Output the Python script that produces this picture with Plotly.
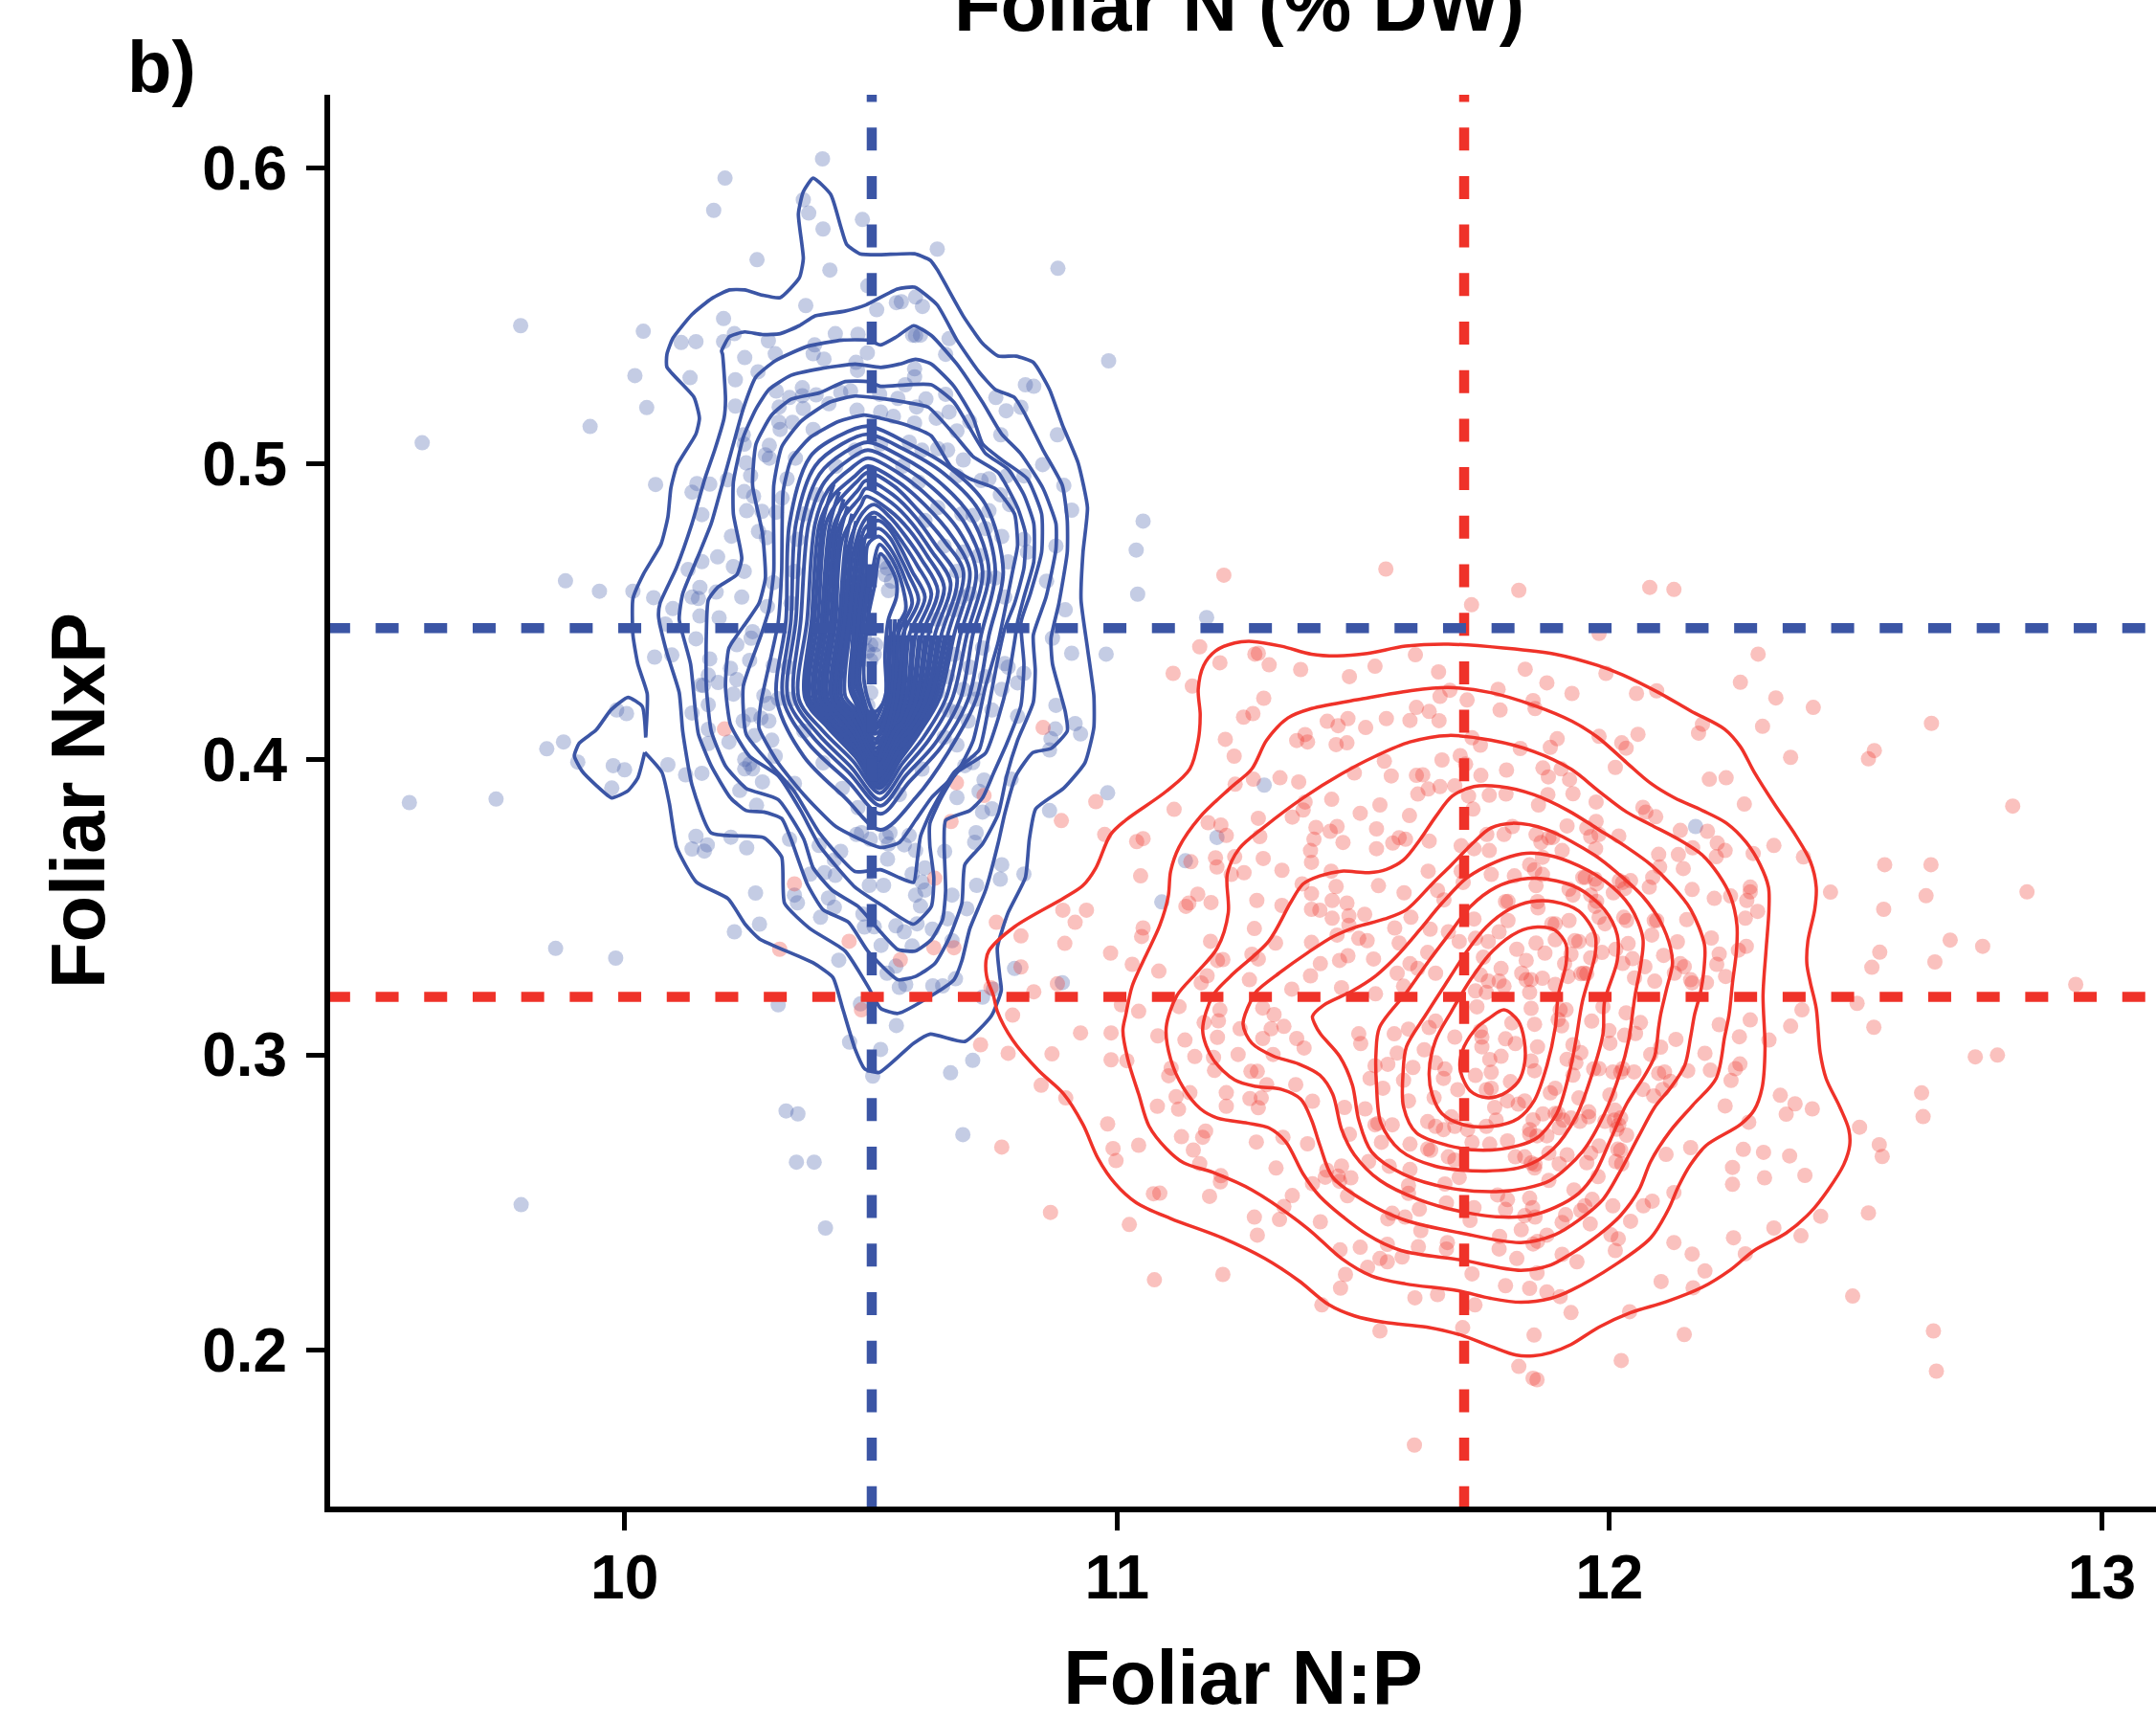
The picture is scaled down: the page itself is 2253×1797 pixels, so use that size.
import plotly.graph_objects as go

BLUE = "#3B55A5"
RED = "#EF3229"
BLUE_PT = "rgba(59,85,165,0.30)"
RED_PT = "rgba(239,50,41,0.30)"

x_ticks = [10, 11, 12, 13]
y_ticks = [0.2, 0.3, 0.4, 0.5, 0.6]
x_range = [9.4021, 13.11]
y_range = [0.1472, 0.6247]
x_line_span = [9.396, 13.11]
y_line_span = [0.1463, 0.6247]
blue_mean_x = 10.502
red_mean_x = 11.705
blue_mean_y = 0.4443
red_mean_y = 0.3196

blue_points = [
(10.402,.6030),(10.204,.5965),(10.181,.5856),(10.363,.5892),(10.374,.5847),(10.403,.5793),(10.483,.5825),(10.269,.5689),(10.417,.5654),(10.635,.5725),(10.494,.5601),(10.368,.5534),(10.512,.5520),(10.552,.5544),(10.562,.5547),(10.591,.5563),(10.605,.5531),(10.201,.5490),(9.789,.5466),(10.038,.5447),(10.223,.5439),(10.115,.5409),(10.145,.5412),(10.201,.5412),(10.292,.5415),(10.428,.5439),(10.474,.5437),(10.585,.5434),(10.601,.5434),(10.386,.5401),(10.383,.5371),(10.405,.5353),(10.493,.5374),(10.306,.5371),(10.244,.5358),(10.470,.5342),(10.473,.5315),(10.589,.5320),(10.589,.5293),(10.570,.5266),(10.271,.5310),(10.021,.5297),(10.133,.5290),(10.225,.5283),(10.308,.5245),(10.361,.5256),(10.361,.5229),(10.335,.5223),(10.389,.5232),(10.439,.5240),(10.459,.5245),(10.518,.5234),(10.555,.5220),(10.612,.5218),(10.045,.5189),(10.225,.5194),(10.314,.5191),(10.363,.5186),(10.415,.5202),(10.472,.5180),(10.593,.5191),(9.930,.5125),(10.341,.5139),(10.313,.5140),(10.316,.5115),(10.383,.5115),(10.546,.5159),(10.589,.5137),(9.589,.5070),(10.241,.5097),(10.243,.5065),(10.294,.5061),(10.286,.5029),(10.294,.5018),(10.347,.5018),(10.247,.5002),(10.256,.4959),(10.330,.4948),(10.063,.4929),(10.147,.4932),(10.173,.4930),(10.209,.4945),(10.137,.4903),(10.243,.4905),(10.262,.4889),(10.320,.4883),(10.157,.4827),(10.248,.4840),(10.279,.4838),(10.308,.4835),(10.217,.4754),(10.221,.4754),(10.272,.4770),(10.288,.4749),(10.189,.4684),(10.157,.4668),(10.221,.4651),(10.243,.4635),(10.129,.4641),(9.880,.4603),
(9.881,.4608),(9.949,.4568),(10.017,.4568),(10.059,.4546),(10.098,.4509),(10.083,.4457),(10.145,.4407),(10.061,.4345),(10.096,.4352),(10.173,.4339),(10.170,.4284),(10.190,.4259),(10.155,.4250),(10.170,.4184),(10.137,.4156),(9.984,.4166),(10.004,.4154),(9.876,.4058),(9.842,.4035),(9.905,.3990),(9.977,.3978),(10.000,.3964),(10.088,.3981),(10.124,.3947),(10.157,.3952),(9.974,.3902),(9.739,.3865),(9.563,.3853),(10.234,.3894),(10.268,.3844),(10.145,.3739),(10.137,.3696),(10.162,.3689),(10.168,.3710),(10.216,.3736),(10.248,.3700),(10.266,.3547),(10.274,.3442),(10.223,.3416),(9.860,.3360),(9.982,.3327),(10.435,.3320),(10.312,.3169),(10.457,.3043),(10.520,.3018),(10.504,.2928),(10.552,.3099),(10.662,.2939),(10.707,.2981),(10.328,.2810),(10.479,.3172),
(10.063,.4344),(10.095,.4355),(10.147,.4409),(10.173,.4339),(10.228,.4387),(10.257,.4409),(10.260,.4431),(10.254,.4334),(10.302,.4317),(10.215,.4307),(10.228,.4269),(10.189,.4258),(10.160,.4249),(10.221,.4220),(10.173,.4186),(10.139,.4155),(10.283,.4215),(10.293,.4188),(10.312,.4204),(10.257,.4150),(10.241,.4129),(10.277,.4139),(10.293,.4129),(10.170,.4101),(10.170,.4053),(10.212,.4058),(10.264,.4080),(10.299,.4064),(10.306,.4010),(10.089,.3983),(10.126,.3947),(10.158,.3953),(10.244,.3999),(10.254,.3983),(10.244,.3967),(10.260,.3967),(10.280,.3923),(10.236,.3893),(10.269,.3845),(10.345,.3918),(10.335,.3729),(10.247,.3699),(10.218,.3737),(10.147,.3740),(10.137,.3692),(10.168,.3708),(10.162,.3688),(10.377,.3611),(10.395,.3708),(10.439,.3688),(10.426,.3659),(10.406,.3616),(10.428,.3607),(10.268,.3546),(10.345,.3540),(10.351,.3514),(10.354,.3503),(10.414,.3530),(10.426,.3499),(10.398,.3465),(10.484,.3476),(10.487,.3432),(10.507,.3433),(10.551,.3436),(10.568,.3416),(10.594,.3443),(10.625,.3425),(10.656,.3460),(10.521,.3370),(10.584,.3368),(10.665,.3386),(10.275,.3440),(10.224,.3416),(10.435,.3319),(10.551,.3300),(10.533,.3276),(10.558,.3228),(10.571,.3238),(10.626,.3233),(10.646,.3233),(10.672,.3257),(10.727,.3195),(10.792,.3292),(10.889,.3244),(10.312,.3168),(10.481,.3174),(10.554,.3103),(10.481,.3751),(10.471,.3745),(10.499,.3729),(10.539,.3751),(10.531,.3738),(10.578,.3742),(10.536,.3713),(10.568,.3710),(10.591,.3691),(10.534,.3662),(10.650,.3688),(10.714,.3751),(10.711,.3719),(10.766,.3643),(10.763,.3594),(10.811,.3611),(10.715,.3573),(10.526,.3573),(10.497,.3573),(10.584,.3611),(10.610,.3632),(10.604,.3584),(10.610,.3557),(10.591,.3540),(10.601,.3503),(10.665,.3540),(10.695,.3494),(10.863,.3826),(10.981,.3886),(10.727,.3821),(10.746,.3832),(10.675,.3870),(10.720,.3891),(10.785,.3932),(10.730,.3929),(10.707,.3988),(10.691,.3978),(10.675,.4048),(10.698,.4129),(10.746,.4166),(10.798,.4145),(10.863,.4031),(10.875,.4102),(10.866,.4069),(10.915,.4120),(10.926,.4085),(10.876,.4182),(10.869,.4409),(10.908,.4358),(10.978,.4355),(10.772,.4323),(10.811,.4290),(10.798,.4258),(10.714,.4236),(10.636,.4226),(10.659,.4166),
(10.983,.5347),(10.814,.5266),(10.831,.5261),(10.754,.5223),(10.775,.5178),(10.805,.5190),(10.764,.5097),(10.879,.5097),(10.849,.4996),(10.892,.4926),(10.908,.4842),(10.811,.4958),(10.776,.4958),(10.724,.4942),(10.740,.4948),(10.763,.4894),(10.782,.4861),(10.740,.4840),(10.708,.4824),(10.733,.4780),(10.766,.4753),(10.811,.4743),(10.876,.4721),(10.779,.4667),(10.818,.4700),(10.857,.4602),(10.895,.4505),(10.772,.4548),(10.688,.5012),(10.701,.5142),(10.675,.5110),(10.659,.5174),(10.652,.5369),(10.659,.5422),(10.591,.5433),(10.652,.5234),(10.610,.5215),(10.594,.5185),(10.633,.5153),(10.591,.5137),(10.549,.5169),(10.520,.5174),(10.471,.5185),(10.558,.5223),(10.520,.5234),(10.455,.5244),(10.416,.5204),(10.571,.5271),(10.591,.5293),(10.474,.5320),(10.604,.5045),(10.636,.5050),(10.578,.5072),(10.656,.5045),(10.675,.4958),(10.685,.4829),(10.733,.4613),(10.685,.4548),(10.669,.4505),(10.636,.4473),
(10.296,.5056),(10.290,.5029),(10.241,.5099),(10.244,.5066),(10.247,.4996),(10.254,.4964),(10.244,.4905),(10.260,.4888),(10.247,.4840),(10.280,.4838),(10.312,.4834),(10.273,.4770),(10.218,.4753),(10.319,.4894),(10.328,.4948),(10.348,.5018),(10.189,.4687),(10.157,.4667),(10.221,.4651),(10.241,.4629),(10.131,.4637),(10.153,.4581),(10.186,.4565),(10.137,.4548),(10.150,.4543),(10.238,.4548),(10.063,.4543),(10.102,.4505),(10.153,.4484),(10.192,.4478),(10.302,.4597),(10.290,.4516),(10.134,.4905),(10.150,.4932),(10.176,.4928),(10.208,.4948),(10.157,.4827),(10.066,.4926),
(10.533,.4646),(10.542,.4602),(10.529,.4624),(10.536,.4570),(10.526,.4667),(10.500,.4387),(10.507,.4354),(10.494,.4365),(10.500,.4333),(10.510,.4387),(10.487,.4408),(10.500,.4225),(10.494,.4182),(10.669,.4354),(10.701,.4311),(10.727,.4376),(10.656,.4279),(10.688,.4236),(10.733,.4279),(10.779,.4311),(10.636,.4225),(10.675,.4160),(10.714,.4203),(10.766,.4236),(10.701,.4559),(10.675,.4635),(10.720,.4689),(10.753,.4613),(10.649,.4721),(10.688,.4700),(10.610,.4807),(10.636,.4851),(10.597,.4937),(10.565,.4991),(10.520,.5066),(10.468,.5045),(10.429,.4991),(10.390,.4894),(10.364,.4829),(10.351,.4743),(10.345,.4635),(10.338,.4527),(10.332,.4311),(10.338,.4203),(10.364,.4095),(10.403,.3987),(10.442,.3901),(10.474,.3836),(10.558,.3880),(10.604,.3966),(10.649,.4074),
(9.79,.2493),(10.352,.2800),(10.349,.2637),(10.385,.2637),(10.408,.2414),(10.880,.5660),(11.053,.4805),(11.039,.4707),(11.042,.4558),(11.182,.4479),(10.687,.2730),(11.299,.3912),(12.175,.3772),(11.296,.3909),(11.203,.3735),(11.139,.3656),(11.091,.3517),(10.982,.3886),(10.977,.4354),(10.907,.4357),(10.868,.4407),(10.895,.4504),(10.876,.4180),(10.914,.4120),(10.927,.4084),(10.874,.4103),(10.864,.4074),(10.861,.4031),(10.864,.3826),(10.788,.3931),(10.766,.3643),(10.811,.3610),(10.762,.3594),(10.716,.3572),(10.694,.3492),(10.790,.3292),(10.889,.3243),(10.749,.3222),(10.725,.3190),(10.708,.2980),(10.685,.2732),
]

red_points = [
(12.082,.4581),(12.131,.4574),(11.979,.4425),(12.302,.4355),(12.266,.4260),(12.338,.4207),(12.414,.4175),(12.654,.4121),(12.189,.4118),(12.181,.4088),(12.311,.4111),(12.538,.4029),(12.526,.4001),(12.368,.4006),(12.203,.3932),(12.237,.3937),(12.274,.3848),(12.819,.3841),(12.334,.3708),(12.394,.3669),(12.292,.3681),(12.219,.3716),(12.235,.3691),(12.199,.3756),(12.144,.3759),(12.169,.3700),(12.217,.3670),(12.140,.3677),(12.100,.3678),(12.150,.3630),(12.102,.3635),(12.559,.3643),(12.653,.3643),(12.449,.3550),(12.848,.3551),(12.643,.3538),(12.557,.3492),(12.168,.3559),(12.213,.3529),(12.246,.3537),(12.286,.3567),(12.286,.3551),(12.279,.3522),(12.301,.3485),(12.276,.3462),(12.157,.3457),(12.692,.3388),(12.758,.3367),(12.549,.3347),(12.533,.3296),(12.661,.3314),(12.947,.3238),(12.503,.3174),(12.207,.3395),(12.138,.3382),(12.278,.3367),(12.262,.3354),(12.223,.3341),(12.218,.3306),(12.110,.3336),(12.144,.3308),(12.152,.3298),(12.132,.3276),(12.236,.3265),(12.197,.3244),(12.165,.3254),(12.092,.3249),(12.051,.3260),(12.072,.3298),
(11.873,.4258),(11.924,.4222),(12.055,.4222),(12.096,.4231),(11.993,.4290),(11.845,.4198),(11.979,.4077),(12.025,.4055),(12.034,.4037),(12.058,.4084),(11.894,.4069),(11.880,.4040),(12.012,.3972),(11.865,.3970),(11.876,.3940),(11.902,.3967),(11.919,.3931),(11.926,.3883),(11.875,.3880),(11.856,.3845),(11.973,.3855),(12.068,.3837),(12.074,.3821),(12.094,.3805),(11.914,.3774),(11.954,.3767),(11.973,.3789),(11.962,.3738),(11.979,.3745),(11.972,.3697),(12.019,.3740),(11.861,.3718),(11.885,.3735),(11.904,.3691),(11.864,.3668),(11.946,.3600),(11.974,.3578),(12.043,.3589),(12.027,.3583),(12.088,.3600),(12.081,.3567),(11.918,.3560),(11.926,.3540),(12.008,.3548),(12.031,.3562),(11.962,.3540),(11.974,.3519),(12.029,.3465),(12.035,.3454),(12.096,.3454),(12.086,.3405),(12.038,.3376),(12.013,.3357),(11.985,.3346),(11.962,.3328),(12.027,.3309),(12.047,.3325),(11.942,.3274),(11.954,.3274),(11.991,.3443),(11.979,.3465),(11.918,.3454),(11.890,.3443),(11.966,.3389),(11.930,.3386),(11.869,.3344),
(12.503,.3174),(12.391,.3152),(12.537,.3093),(12.368,.3097),(12.286,.3118),(12.223,.3102),(12.264,.3061),(12.324,.3050),(12.194,.3005),(12.743,.2993),(12.788,.2999),(12.265,.2969),(12.256,.2953),(12.205,.2948),(12.247,.2913),(12.634,.2871),(12.637,.2791),(12.347,.2863),(12.377,.2834),(12.359,.2799),(12.412,.2817),(12.235,.2827),(12.283,.2772),(12.508,.2755),(12.548,.2696),(12.554,.2656),(12.165,.2686),(12.115,.2663),(12.272,.2680),(12.313,.2670),(12.366,.2658),(12.250,.2619),(12.250,.2562),(12.315,.2584),(12.397,.2592),(12.131,.2534),(12.087,.2505),(12.069,.2489),(12.007,.2489),(12.429,.2454),(12.526,.2465),(12.043,.2437),(11.961,.2428),(12.334,.2414),(12.389,.2388),(12.252,.2381),(12.131,.2365),(12.168,.2326),(12.276,.2327),(12.018,.2378),(12.012,.2338),(11.904,.2325),(11.934,.2300),(11.853,.2262),(12.194,.2269),(12.105,.2233),(12.170,.2212),(12.494,.2184),(11.873,.2198),(11.900,.2182),(11.922,.2128),(12.041,.2131),(11.847,.2052),(12.152,.2054),(12.658,.2066),(12.024,.1966),(12.664,.1930),(11.853,.1901),(11.845,.1906),(12.135,.3052),(12.104,.3026),(12.084,.3001),(12.063,.3109),(12.053,.3072),(12.034,.3142),(12.031,.3066),(11.999,.3082),(12.001,.3039),(11.979,.2953),(12.007,.2942),(12.050,.2942),(12.027,.2953),(11.926,.3034),(11.942,.3007),(11.914,.2985),(11.926,.2931),(12.100,.2937),(12.112,.2942),(12.124,.2910),(12.068,.2883),(12.090,.2861),(12.108,.2883),(12.001,.2864),(11.938,.2854),(11.958,.2807),(12.011,.2813),(12.023,.2786),(11.922,.2786),(11.940,.2775),(11.991,.2775),(12.015,.2748),(12.035,.2728),(11.898,.2753),(11.873,.2726),(11.865,.2800),(11.890,.2802),(11.979,.2692),(12.017,.2681),(12.025,.2631),(11.962,.2667),(11.914,.2662),(11.877,.2667),(11.898,.2631),(11.954,.2635),(11.977,.2588),(11.877,.2575),(11.928,.2543),(11.965,.2511),(11.950,.2489),(11.942,.2473),(11.911,.2459),(11.904,.2433),(11.873,.2390),(11.845,.2360),(11.849,.2451),(11.849,.2629),(11.853,.2726),(11.845,.2780),
(11.217,.4622),(11.546,.4643),(11.816,.4571),(11.720,.4522),(11.168,.4380),(11.980,.4425),(11.287,.4358),(11.280,.4355),(11.606,.4353),(11.209,.4326),(11.309,.4319),(11.524,.4314),(11.373,.4303),(11.114,.4290),(11.653,.4295),(11.472,.4279),(11.829,.4304),(11.875,.4258),(11.994,.4288),(11.925,.4222),(11.153,.4247),(11.774,.4236),(11.676,.4233),(11.656,.4212),(11.711,.4200),(11.298,.4206),(11.847,.4198),(11.849,.4171),(11.778,.4166),(11.276,.4154),(11.257,.4142),(11.608,.4175),(11.634,.4161),(11.654,.4130),(11.427,.4128),(11.469,.4137),(11.449,.4113),(11.505,.4107),(11.547,.4137),(11.595,.4131),(11.382,.4083),(11.365,.4063),(11.387,.4058),(11.445,.4049),(11.467,.4055),(11.220,.4067),(11.721,.4072),(11.738,.4047),(11.895,.4069),(11.882,.4040),(11.819,.4036),(11.977,.4080),(12.025,.4058),(11.238,.4010),(11.660,.3997),(11.697,.4012),(11.708,.3983),(11.543,.3993),(11.540,.3990),(11.791,.3963),(11.867,.3970),(11.901,.3966),(12.011,.3972),(11.482,.3953),(11.557,.3943),(11.739,.3945),(11.608,.3945),(11.621,.3947),(11.875,.3939),(11.921,.3931),(11.331,.3937),(11.369,.3923),(11.277,.3932),(11.240,.3915),(11.656,.3907),(11.686,.3910),(11.632,.3899),(11.611,.3882),(11.756,.3878),(11.790,.3882),(11.876,.3882),(11.927,.3883),(10.957,.3856),(11.436,.3864),(11.714,.3875),(11.382,.3855),(11.534,.3845),(11.857,.3844),(11.973,.3855),(11.116,.3830),(11.723,.3831),(11.494,.3817),(11.378,.3828),(11.356,.3804),(11.594,.3809),(10.887,.3792),(11.287,.3800),(11.185,.3785),(11.211,.3777),(11.222,.3742),(11.404,.3769),(11.433,.3756),(11.447,.3772),(11.527,.3764),(11.915,.3774),(11.951,.3770),(11.974,.3790),(10.975,.3745),(11.053,.3731),(11.040,.3721),(11.290,.3738),(11.400,.3729),(11.459,.3718),(11.586,.3729),(11.573,.3734),(11.560,.3716),(11.634,.3723),(11.699,.3707),(11.751,.3745),(11.786,.3745),(11.803,.3772),(11.851,.3745),(11.877,.3734),(11.907,.3697),(11.973,.3699),(12.021,.3740),(11.393,.3691),(11.527,.3697),(11.200,.3666),(11.150,.3653),(11.239,.3670),(11.297,.3664),(11.395,.3651),(11.725,.3697),(11.756,.3691),(11.838,.3643),(11.866,.3675),(11.951,.3600),(12.020,.3589),(11.203,.3635),(11.335,.3624),(11.048,.3605),(11.232,.3610),(11.258,.3616),(11.435,.3621),(11.632,.3621),(11.699,.3621),(11.760,.3610),(11.807,.3605),(11.864,.3610),(11.376,.3578),(11.445,.3569),(11.531,.3572),(11.583,.3548),(11.651,.3556),(11.703,.3583),(11.851,.3572),(11.920,.3556),(11.395,.3545),(11.164,.3543),(11.146,.3513),(11.140,.3502),(11.191,.3515),(11.284,.3522),(11.437,.3522),(11.467,.3513),(11.335,.3505),(11.395,.3492),(11.412,.3489),(11.503,.3475),(10.890,.3489),(10.938,.3489),(11.471,.3470),(11.437,.3462),(10.915,.3448),(10.755,.3448),(11.597,.3465),(11.664,.3524),(11.725,.3459),(11.794,.3519),(11.855,.3497),(11.977,.3459),(11.053,.3429),(11.279,.3427),(11.471,.3438),(11.564,.3429),(11.636,.3425),(11.794,.3454),(10.805,.3402),(11.050,.3400),(11.447,.3405),(10.894,.3377),(11.190,.3384),(11.322,.3378),(11.395,.3380),(11.491,.3394),(11.508,.3386),(11.573,.3378),(10.987,.3344),(11.215,.3322),(11.204,.3319),(11.274,.3340),(11.287,.3324),(11.469,.3335),(11.452,.3319),(11.521,.3324),(11.413,.3308),(11.417,.3303),(10.805,.3297),(11.031,.3306),(11.085,.3283),(11.393,.3267),(11.183,.3267),(11.171,.3243),(11.269,.3254),(11.355,.3222),(11.456,.3227),(11.525,.3206),(10.831,.3213),(10.879,.3240),(10.744,.3227),
(10.788,.3134),(10.723,.3034),(10.779,.3005),(10.868,.3003),(10.926,.3074),(10.988,.3074),(10.988,.2983),(11.020,.2980),(11.044,.3147),(11.009,.3169),(11.083,.3064),(10.846,.2897),(10.896,.2854),(10.981,.2766),(11.082,.2826),(11.125,.2816),(11.120,.2858),(11.148,.2872),(11.110,.2955),(11.105,.2929),(11.158,.2994),(11.138,.3050),(11.196,.2991),(11.198,.2947),(11.204,.3059),(11.206,.3115),(11.177,.3109),(11.209,.3152),(11.126,.3163),(10.766,.2688),(10.992,.2683),(11.044,.2694),(10.998,.2642),(11.131,.2723),(11.174,.2721),(11.180,.2742),(11.155,.2678),(11.168,.2632),(11.211,.2591),(11.210,.2570),(11.074,.2530),(11.087,.2532),(11.188,.2521),(10.865,.2467),(11.025,.2426),(11.076,.2239),(11.215,.2257),(11.222,.2872),(11.222,.2826),(11.270,.2852),(11.293,.2854),(11.287,.2821),(11.272,.2944),(11.285,.2944),(11.304,.2899),(11.246,.3001),(11.250,.3088),(11.296,.3055),(11.317,.3001),(11.313,.3088),(11.339,.3096),(11.319,.3136),(11.296,.3158),(11.365,.3055),(11.380,.3023),(11.363,.2899),(11.397,.2843),(11.283,.2705),(11.337,.2721),(11.387,.2699),(11.323,.2617),(11.356,.2524),(11.339,.2487),(11.279,.2451),(11.330,.2443),(11.285,.2390),(11.413,.2435),(11.397,.2564),(11.426,.2610),(11.423,.2586),(11.452,.2572),(11.475,.2584),(11.456,.2624),(11.468,.2523),(11.453,.2340),(11.494,.2349),(11.549,.2359),(11.612,.2351),(11.671,.2365),(11.669,.2343),(11.579,.2316),(11.534,.2311),(11.549,.2300),(11.509,.2281),(11.464,.2257),(11.454,.2211),(11.416,.2154),(11.605,.2178),(11.651,.2189),(11.534,.2066),(11.702,.2077),(11.727,.2154),(11.721,.2259),(11.789,.2219),(11.838,.2210),(11.855,.2262),(11.875,.2198),(11.902,.2179),(11.922,.2127),(11.845,.2049),(11.816,.1946),(11.845,.1908),(11.854,.1901),(12.022,.1966),(11.604,.1680),(11.559,.2464),(11.585,.2451),(11.614,.2478),(11.617,.2405),(11.717,.2440),(11.777,.2386),(11.776,.2343),(11.821,.2408),(11.845,.2354),(11.812,.2311),(11.905,.2325),(11.934,.2300),(11.875,.2390),(11.912,.2451),(11.961,.2429),(12.008,.2489),(12.019,.2381),(12.012,.2338),
(11.806,.3605),(11.848,.3626),(11.867,.3610),(11.945,.3599),(11.971,.3594),(12.029,.3583),(12.084,.3599),(12.168,.3556),(11.789,.3518),(11.854,.3518),(11.857,.3491),(11.925,.3545),(11.971,.3502),(11.993,.3448),(12.032,.3459),(12.091,.3454),(12.159,.3459),(12.214,.3529),(12.211,.3394),(11.673,.3416),(11.695,.3383),(11.754,.3383),(11.728,.3394),(11.776,.3416),(11.812,.3357),(11.831,.3319),(11.851,.3378),(11.870,.3340),(11.919,.3459),(11.883,.3443),(11.938,.3383),(11.964,.3330),(12.013,.3357),(12.039,.3378),(12.087,.3405),(12.139,.3383),(12.110,.3340),(12.149,.3303),(12.049,.3324),(11.744,.3330),(11.595,.3308),(11.611,.3292),(11.647,.3276),(11.631,.3346),(11.569,.3276),(11.520,.3324),(11.922,.3340),(11.890,.3389),(11.909,.3308),
(11.738,.3270),(11.754,.3249),(11.776,.3249),(11.780,.3292),(11.831,.3254),(11.841,.3254),(11.822,.3276),(11.864,.3259),(11.916,.3265),(11.948,.3276),(11.890,.3238),(12.071,.3292),(12.091,.3243),(12.168,.3243),(12.198,.3243),(12.152,.3303),(11.582,.3232),(11.572,.3270),(11.728,.3216),(11.786,.3232),(11.838,.3211),(11.750,.3211),(11.731,.3162),(11.841,.3157),(11.900,.3152),(11.912,.3152),(11.987,.3162),(12.032,.3146),(11.802,.3108),(11.848,.3103),(11.896,.3119),(11.903,.3098),(11.647,.3114),(11.634,.3092),(11.592,.3087),(11.563,.3071),(11.495,.3038),(11.491,.3071),(11.741,.3060),(11.738,.3081),(11.686,.3060),(11.741,.3027),(11.809,.3038),(11.854,.3027),(11.789,.3054),(11.964,.3114),(12.000,.3071),(12.029,.3060),(12.065,.3108),(12.055,.3076),(11.929,.3027),(11.945,.3006),(12.136,.3054),(12.220,.3103),(12.194,.3006),(12.000,.3038),(12.104,.3022),(12.081,.3000),
(11.666,.2952),(11.647,.2973),(11.550,.2968),(11.601,.2957),(11.524,.2963),(11.624,.3017),(11.569,.3006),(11.757,.2984),(11.754,.2995),(11.780,.2995),(11.841,.2979),(11.909,.2984),(11.932,.2973),(11.968,.2952),(12.023,.2941),(12.052,.2941),(12.113,.2941),(12.159,.2946),(11.760,.2941),(11.848,.2946),(11.799,.2909),(11.802,.2898),(11.663,.2920),(11.660,.2914),(11.890,.2887),(11.880,.2871),(11.981,.2952),(12.100,.2930),(12.071,.2887),(12.091,.2866),(11.728,.2930),(11.760,.2887),(11.750,.2882),(11.692,.2882),(12.207,.2946),(11.582,.2914),(11.514,.2920),(11.540,.2887),(12.000,.2866),(11.938,.2855),
(11.592,.2844),(11.644,.2855),(11.679,.2790),(11.767,.2822),(11.815,.2833),(11.793,.2844),(11.828,.2844),(11.770,.2779),(11.864,.2801),(11.906,.2779),(11.896,.2801),(11.958,.2790),(12.010,.2779),(12.019,.2763),(12.036,.2731),(11.838,.2747),(11.838,.2731),(11.647,.2758),(11.663,.2747),(11.686,.2758),(11.712,.2747),(11.750,.2758),(11.530,.2768),(11.524,.2763),(11.559,.2763),(11.631,.2774),(11.504,.2817),(11.462,.2822),(11.472,.2731),(11.537,.2704),(11.595,.2698),(11.637,.2677),(11.631,.2682),(11.721,.2704),(11.757,.2698),(11.793,.2709),(12.023,.2677),
(11.673,.2655),(11.686,.2644),(11.809,.2655),(11.828,.2655),(11.877,.2671),(11.912,.2661),(11.841,.2634),(11.848,.2617),(11.955,.2639),(11.981,.2682),(12.013,.2639),(12.117,.2666),(12.165,.2688),(11.595,.2612),(11.553,.2623),(11.511,.2639),(11.456,.2623),(11.666,.2563),(11.695,.2585),(11.592,.2558),(11.977,.2585),(11.877,.2580),(11.929,.2547),(11.449,.2590),(11.475,.2585),(11.426,.2585),(11.469,.2526),(11.592,.2531),(11.669,.2499),(11.614,.2477),(11.725,.2483),(11.773,.2526),(11.793,.2510),(11.838,.2515),(11.844,.2483),(11.789,.2477),(11.828,.2456),(12.006,.2488),(12.071,.2488),(12.087,.2510),(11.912,.2461),(11.906,.2434),(11.961,.2423),(12.045,.2434),(11.582,.2450),(11.550,.2445),(11.618,.2407),(11.822,.2407),(11.669,.2375),(11.776,.2385),(12.003,.2391),(11.854,.2369),
(10.203,.4102),(10.850,.4107),(10.674,.3920),(10.730,.3877),(10.663,.3789),(10.630,.3597),(10.345,.3578),(10.456,.3384),(10.315,.3357),(10.560,.3321),(10.628,.3362),(10.669,.3362),(10.740,.3222),(10.831,.3211),(10.879,.3238),(10.788,.3134),(10.481,.3152),(10.754,.3449),(10.805,.3402),(10.893,.3379),(10.986,.3346),(10.807,.3298),(10.889,.3486),(10.938,.3490),(10.915,.3449),(10.957,.3857),(10.887,.3792),(10.975,.3745),
]

red_level_1 = [(11.200,.4366),(11.239,.4393),(11.274,.4398),(11.334,.4382),(11.395,.4355),(11.447,.4349),(11.508,.4357),(11.586,.4382),(11.673,.4389),(11.785,.4376),(11.890,.4355),(11.976,.4317),(12.027,.4285),(12.100,.4225),(12.165,.4163),(12.234,.4101),(12.266,.4042),(12.294,.3956),(12.335,.3848),(12.379,.3740),(12.408,.3654),(12.420,.3567),(12.417,.3492),(12.403,.3384),(12.401,.3308),(12.408,.3244),(12.420,.3157),(12.428,.3007),(12.440,.2920),(12.468,.2823),(12.486,.2748),(12.488,.2694),(12.476,.2629),(12.444,.2543),(12.408,.2467),(12.359,.2397),(12.294,.2338),(12.246,.2273),(12.189,.2214),(12.116,.2165),(12.043,.2128),(11.979,.2079),(11.922,.2020),(11.881,.1993),(11.846,.1982),(11.811,.1984),(11.759,.2014),(11.699,.2052),(11.629,.2079),(11.543,.2095),(11.482,.2117),(11.430,.2155),(11.369,.2236),(11.300,.2311),(11.213,.2381),(11.109,.2446),(11.039,.2500),(10.996,.2565),(10.961,.2651),(10.931,.2764),(10.892,.2867),(10.840,.2948),(10.788,.3050),(10.757,.3147),(10.749,.3201),(10.736,.3260),(10.734,.3319),(10.740,.3352),(10.792,.3433),(10.892,.3530),(10.931,.3573),(10.957,.3632),(10.987,.3745),(11.018,.3794),(11.100,.3891),(11.148,.3967),(11.165,.4064),(11.169,.4150),(11.165,.4236),(11.176,.4317)]
red_level_2 = [(11.018,.3136),(11.031,.3233),(11.057,.3330),(11.087,.3438),(11.104,.3535),(11.109,.3621),(11.126,.3702),(11.169,.3805),(11.230,.3902),(11.274,.3967),(11.304,.4064),(11.347,.4139),(11.395,.4171),(11.499,.4204),(11.595,.4231),(11.673,.4242),(11.759,.4225),(11.846,.4182),(11.924,.4128),(11.976,.4074),(12.035,.3988),(12.084,.3918),(12.132,.3869),(12.189,.3826),(12.238,.3783),(12.278,.3718),(12.306,.3643),(12.323,.3567),(12.324,.3492),(12.318,.3352),(12.312,.3201),(12.316,.3018),(12.310,.2888),(12.294,.2813),(12.266,.2764),(12.197,.2694),(12.165,.2629),(12.140,.2554),(12.120,.2478),(12.084,.2381),(12.011,.2289),(11.922,.2203),(11.881,.2176),(11.820,.2163),(11.759,.2176),(11.690,.2203),(11.586,.2225),(11.517,.2252),(11.456,.2311),(11.386,.2414),(11.274,.2543),(11.195,.2602),(11.135,.2635),(11.100,.2683),(11.065,.2759),(11.044,.2867),(11.022,.2985),(11.012,.3082)]
red_level_3 = [(11.122,.3201),(11.161,.3276),(11.204,.3362),(11.226,.3481),(11.224,.3611),(11.248,.3697),(11.300,.3772),(11.378,.3869),(11.456,.3950),(11.525,.4010),(11.595,.4058),(11.673,.4080),(11.759,.4064),(11.846,.4026),(11.922,.3966),(11.979,.3891),(12.035,.3821),(12.084,.3778),(12.140,.3729),(12.189,.3675),(12.221,.3611),(12.246,.3535),(12.259,.3438),(12.258,.3352),(12.250,.3244),(12.243,.3136),(12.234,.3061),(12.217,.2921),(12.169,.2829),(12.124,.2743),(12.084,.2640),(12.060,.2543),(12.023,.2457),(11.979,.2392),(11.922,.2327),(11.881,.2289),(11.820,.2271),(11.699,.2306),(11.577,.2338),(11.508,.2392),(11.412,.2521),(11.378,.2597),(11.343,.2705),(11.308,.2753),(11.265,.2769),(11.204,.2786),(11.169,.2818),(11.135,.2888),(11.109,.2985),(11.100,.3093)]
red_level_4 = [(11.195,.3201),(11.230,.3265),(11.308,.3384),(11.352,.3513),(11.378,.3578),(11.412,.3605),(11.456,.3621),(11.512,.3616),(11.547,.3627),(11.582,.3659),(11.616,.3729),(11.647,.3805),(11.681,.3875),(11.725,.3907),(11.777,.3907),(11.846,.3880),(11.916,.3826),(11.979,.3761),(12.035,.3702),(12.084,.3643),(12.124,.3578),(12.165,.3492),(12.193,.3373),(12.193,.3308),(12.185,.3211),(12.173,.3136),(12.165,.3061),(12.153,.2964),(12.124,.2888),(12.092,.2823),(12.060,.2726),(12.019,.2597),(11.987,.2511),(11.938,.2441),(11.890,.2392),(11.820,.2365),(11.699,.2397),(11.586,.2440),(11.508,.2500),(11.438,.2586),(11.412,.2694),(11.395,.2780),(11.373,.2850),(11.334,.2883),(11.282,.2893),(11.239,.2915),(11.195,.2985),(11.174,.3082)]
red_level_5 = [(11.274,.3190),(11.284,.3216),(11.329,.3276),(11.388,.3346),(11.439,.3400),(11.485,.3432),(11.543,.3459),(11.588,.3491),(11.640,.3578),(11.679,.3642),(11.724,.3718),(11.759,.3767),(11.803,.3783),(11.872,.3762),(11.970,.3675),(12.019,.3611),(12.068,.3535),(12.104,.3449),(12.124,.3362),(12.128,.3308),(12.116,.3222),(12.104,.3136),(12.100,.3093),(12.092,.2996),(12.072,.2931),(12.035,.2834),(12.003,.2716),(11.970,.2597),(11.938,.2532),(11.890,.2484),(11.841,.2457),(11.785,.2451),(11.707,.2467),(11.612,.2511),(11.534,.2575),(11.482,.2662),(11.456,.2748),(11.438,.2867),(11.412,.2931),(11.369,.2969),(11.317,.2996),(11.274,.3039),(11.256,.3104)]
red_level_6 = [(11.397,.3130),(11.420,.3168),(11.478,.3216),(11.524,.3265),(11.569,.3335),(11.614,.3421),(11.660,.3513),(11.711,.3599),(11.770,.3653),(11.822,.3680),(11.860,.3680),(11.919,.3653),(11.990,.3589),(12.042,.3502),(12.068,.3394),(12.064,.3308),(12.052,.3200),(12.039,.3049),(12.022,.2941),(11.990,.2801),(11.945,.2672),(11.880,.2575),(11.828,.2548),(11.770,.2537),(11.679,.2548),(11.582,.2596),(11.517,.2672),(11.491,.2779),(11.478,.2898),(11.452,.2995),(11.413,.3071),(11.402,.3103)]
red_level_7 = [(11.526,.3006),(11.533,.3092),(11.588,.3211),(11.634,.3319),(11.673,.3405),(11.718,.3502),(11.770,.3567),(11.822,.3594),(11.873,.3594),(11.938,.3562),(11.990,.3491),(12.016,.3405),(12.016,.3319),(11.990,.3179),(11.987,.3071),(11.964,.2931),(11.932,.2790),(11.886,.2682),(11.828,.2623),(11.750,.2607),(11.647,.2623),(11.575,.2677),(11.536,.2769),(11.527,.2898)]
red_level_8 = [(11.581,.2941),(11.588,.3028),(11.627,.3135),(11.673,.3254),(11.711,.3351),(11.750,.3432),(11.796,.3491),(11.841,.3518),(11.886,.3518),(11.938,.3486),(11.971,.3405),(11.971,.3340),(11.945,.3179),(11.932,.3049),(11.919,.2941),(11.893,.2801),(11.854,.2720),(11.815,.2693),(11.744,.2677),(11.673,.2693),(11.608,.2736),(11.582,.2823)]
red_level_9 = [(11.634,.2941),(11.647,.3049),(11.679,.3146),(11.718,.3254),(11.763,.3351),(11.815,.3416),(11.854,.3432),(11.890,.3421),(11.912,.3373),(11.912,.3308),(11.896,.3200),(11.890,.3092),(11.873,.2963),(11.847,.2844),(11.815,.2785),(11.763,.2758),(11.705,.2763),(11.660,.2801),(11.640,.2866)]
red_level_10 = [(11.705,.3028),(11.731,.3092),(11.757,.3125),(11.786,.3152),(11.815,.3114),(11.827,.3049),(11.828,.2974),(11.815,.2909),(11.783,.2866),(11.750,.2855),(11.718,.2877),(11.698,.2941),(11.697,.2984)]

blue_outer = [(10.041,.4023),(10.076,.3955),(10.091,.3850),(10.106,.3701),(10.146,.3584),(10.210,.3528),(10.245,.3441),(10.274,.3392),(10.383,.3311),(10.423,.3262),(10.443,.3156),(10.468,.3020),(10.488,.2952),(10.517,.2940),(10.587,.3039),(10.621,.3070),(10.691,.3045),(10.745,.3132),(10.765,.3218),(10.762,.3265),(10.757,.3362),(10.779,.3481),(10.814,.3600),(10.822,.3729),(10.835,.3832),(10.892,.3902),(10.935,.3988),(10.953,.4107),(10.953,.4215),(10.940,.4376),(10.927,.4538),(10.931,.4700),(10.940,.4851),(10.921,.5002),(10.889,.5131),(10.863,.5250),(10.830,.5342),(10.795,.5363),(10.759,.5363),(10.727,.5406),(10.688,.5498),(10.635,.5655),(10.621,.5687),(10.589,.5709),(10.518,.5706),(10.478,.5709),(10.451,.5741),(10.439,.5801),(10.419,.5909),(10.383,.5965),(10.363,.5919),(10.353,.5844),(10.363,.5693),(10.355,.5628),(10.316,.5561),(10.280,.5569),(10.244,.5587),(10.213,.5587),(10.177,.5558),(10.137,.5504),(10.098,.5423),(10.086,.5369),(10.086,.5326),(10.141,.5224),(10.152,.5153),(10.145,.5100),(10.106,.4992),(10.094,.4916),(10.088,.4819),(10.074,.4727),(10.038,.4625),(10.017,.4543),(10.017,.4420),(10.027,.4321),(10.046,.4221),(10.043,.4079)]
blue_island = [(10.043,.4073),(10.036,.4178),(10.007,.4209),(9.972,.4166),(9.942,.4098),(9.908,.4054),(9.898,.4011),(9.913,.3961),(9.942,.3912),(9.974,.3869),(10.007,.3893),(10.027,.3937),(10.041,.4023)]
blue_level_2 = [(10.197,.5380),(10.213,.5429),(10.244,.5445),(10.280,.5436),(10.316,.5439),(10.355,.5466),(10.387,.5499),(10.447,.5515),(10.490,.5536),(10.554,.5590),(10.589,.5596),(10.635,.5536),(10.675,.5417),(10.720,.5309),(10.753,.5250),(10.792,.5223),(10.814,.5164),(10.850,.5045),(10.889,.4926),(10.899,.4808),(10.899,.4700),(10.882,.4527),(10.866,.4408),(10.869,.4322),(10.895,.4160),(10.899,.4095),(10.866,.4036),(10.829,.4022),(10.795,.3944),(10.772,.3815),(10.759,.3718),(10.733,.3556),(10.701,.3426),(10.685,.3318),(10.669,.3254),(10.623,.3200),(10.555,.3140),(10.520,.3157),(10.494,.3232),(10.448,.3351),(10.377,.3426),(10.325,.3512),(10.319,.3669),(10.283,.3734),(10.176,.3750),(10.137,.3912),(10.118,.4095),(10.111,.4225),(10.085,.4365),(10.069,.4484),(10.072,.4527),(10.105,.4646),(10.137,.4797),(10.163,.4948),(10.183,.5045),(10.202,.5153),(10.205,.5217),(10.199,.5369)]
blue_level_3 = [(10.267,.5293),(10.306,.5347),(10.371,.5396),(10.442,.5417),(10.494,.5417),(10.520,.5401),(10.552,.5428),(10.587,.5466),(10.623,.5433),(10.675,.5336),(10.727,.5207),(10.766,.5099),(10.804,.5034),(10.850,.4915),(10.876,.4797),(10.876,.4710),(10.856,.4548),(10.830,.4419),(10.834,.4300),(10.830,.4192),(10.798,.4063),(10.776,.3944),(10.759,.3815),(10.727,.3713),(10.691,.3643),(10.685,.3513),(10.659,.3394),(10.630,.3308),(10.591,.3265),(10.555,.3254),(10.494,.3351),(10.455,.3448),(10.403,.3491),(10.371,.3578),(10.338,.3729),(10.319,.3799),(10.283,.3821),(10.247,.3826),(10.215,.3869),(10.176,.3977),(10.150,.4084),(10.144,.4160),(10.134,.4322),(10.111,.4473),(10.118,.4559),(10.150,.4689),(10.176,.4797),(10.196,.4915),(10.221,.5066),(10.241,.5185)]
blue_level_4 = [(10.338,.5298),(10.396,.5320),(10.468,.5336),(10.520,.5325),(10.558,.5336),(10.591,.5352),(10.623,.5336),(10.669,.5261),(10.708,.5153),(10.727,.5066),(10.766,.5012),(10.818,.4948),(10.847,.4829),(10.847,.4700),(10.824,.4559),(10.805,.4462),(10.811,.4322),(10.805,.4182),(10.776,.4052),(10.750,.3955),(10.727,.3869),(10.701,.3826),(10.652,.3793),(10.649,.3707),(10.652,.3556),(10.646,.3459),(10.623,.3389),(10.591,.3351),(10.555,.3356),(10.520,.3415),(10.474,.3502),(10.422,.3556),(10.383,.3632),(10.364,.3729),(10.312,.3863),(10.247,.3901),(10.205,.3977),(10.176,.4095),(10.166,.4246),(10.166,.4419),(10.170,.4538),(10.189,.4581),(10.228,.4624),(10.238,.4678),(10.221,.4829),(10.221,.4937),(10.241,.5088),(10.267,.5185),(10.293,.5250)]
blue_level_5 = [(10.396,.5239),(10.448,.5277),(10.494,.5277),(10.520,.5261),(10.571,.5266),(10.623,.5266),(10.669,.5207),(10.701,.5120),(10.733,.5034),(10.779,.4980),(10.811,.4894),(10.831,.4797),(10.831,.4667),(10.811,.4548),(10.798,.4462),(10.792,.4398),(10.779,.4268),(10.759,.4139),(10.733,.4020),(10.675,.3955),(10.643,.3869),(10.620,.3782),(10.620,.3707),(10.628,.3599),(10.623,.3502),(10.587,.3442),(10.526,.3502),(10.468,.3567),(10.396,.3707),(10.358,.3825),(10.312,.3944),(10.254,.4009),(10.215,.4117),(10.205,.4246),(10.212,.4376),(10.247,.4462),(10.273,.4527),(10.286,.4613),(10.280,.4764),(10.260,.4926),(10.267,.5066),(10.299,.5164),(10.338,.5217)]
blue_level_6 = [(10.416,.5207),(10.468,.5228),(10.507,.5223),(10.571,.5207),(10.617,.5190),(10.669,.5099),(10.708,.5023),(10.759,.4969),(10.798,.4851),(10.814,.4764),(10.811,.4646),(10.792,.4527),(10.772,.4441),(10.756,.4322),(10.740,.4182),(10.720,.4031),(10.669,.3955),(10.623,.3825),(10.601,.3739),(10.594,.3653),(10.587,.3583),(10.558,.3599),(10.520,.3626),(10.468,.3620),(10.396,.3750),(10.345,.3890),(10.299,.3977),(10.247,.4084),(10.241,.4246),(10.277,.4419),(10.293,.4505),(10.303,.4635),(10.303,.4926),(10.319,.5056),(10.358,.5142)]
blue_level_7 = [(10.435,.5142),(10.487,.5164),(10.520,.5153),(10.571,.5131),(10.623,.5093),(10.662,.4991),(10.701,.4948),(10.753,.4915),(10.792,.4829),(10.798,.4721),(10.788,.4635),(10.759,.4398),(10.733,.4246),(10.708,.4063),(10.675,.3955),(10.623,.3869),(10.591,.3793),(10.558,.3718),(10.520,.3701),(10.429,.3772),(10.364,.3880),(10.312,.3987),(10.273,.4106),(10.277,.4192),(10.312,.4462),(10.319,.4635),(10.322,.4905),(10.338,.5012),(10.377,.5088)]
blue_core = [
[(10.494,.5126),(10.571,.5072),(10.656,.4991),(10.733,.4861),(10.769,.4635),(10.740,.4419),(10.714,.4203),(10.656,.4020),(10.591,.3869),(10.520,.3761),(10.448,.3869),(10.364,.4009),(10.309,.4203),(10.328,.4473),(10.335,.4797),(10.377,.5023),(10.435,.5093)],
[(10.494,.5099),(10.565,.5050),(10.646,.4969),(10.720,.4840),(10.753,.4635),(10.724,.4419),(10.698,.4203),(10.643,.4041),(10.578,.3923),(10.520,.3815),(10.455,.3923),(10.374,.4052),(10.322,.4203),(10.338,.4473),(10.348,.4797),(10.387,.4991),(10.442,.5066)],
[(10.494,.5072),(10.562,.5023),(10.636,.4942),(10.704,.4818),(10.740,.4635),(10.707,.4419),(10.682,.4203),(10.630,.4052),(10.571,.3944),(10.520,.3842),(10.458,.3950),(10.383,.4074),(10.332,.4203),(10.348,.4473),(10.361,.4797),(10.396,.4964),(10.448,.5039)],
[(10.494,.5045),(10.558,.4996),(10.627,.4915),(10.691,.4797),(10.727,.4635),(10.695,.4419),(10.665,.4203),(10.617,.4063),(10.568,.3966),(10.518,.3863),(10.461,.3971),(10.393,.4085),(10.345,.4203),(10.358,.4473),(10.374,.4797),(10.406,.4937),(10.455,.5012)],
[(10.494,.5018),(10.555,.4969),(10.617,.4888),(10.678,.4775),(10.714,.4635),(10.682,.4419),(10.652,.4203),(10.607,.4074),(10.565,.3987),(10.518,.3885),(10.464,.3993),(10.403,.4095),(10.354,.4203),(10.371,.4473),(10.387,.4797),(10.413,.4910),(10.461,.4985)],
[(10.494,.4991),(10.552,.4942),(10.609,.4861),(10.665,.4753),(10.701,.4635),(10.669,.4419),(10.639,.4203),(10.597,.4085),(10.562,.4004),(10.517,.3901),(10.468,.4009),(10.413,.4106),(10.367,.4203),(10.380,.4473),(10.396,.4797),(10.422,.4888),(10.468,.4958)],
[(10.494,.4969),(10.549,.4921),(10.597,.4840),(10.652,.4732),(10.688,.4635),(10.656,.4419),(10.626,.4203),(10.591,.4095),(10.558,.4020),(10.517,.3917),(10.468,.4025),(10.422,.4111),(10.377,.4203),(10.393,.4473),(10.409,.4797),(10.429,.4861),(10.471,.4937)],
[(10.490,.4942),(10.545,.4894),(10.591,.4818),(10.633,.4721),(10.675,.4613),(10.643,.4419),(10.617,.4203),(10.584,.4101),(10.555,.4041),(10.516,.3933),(10.471,.4041),(10.432,.4122),(10.390,.4203),(10.406,.4473),(10.422,.4775),(10.439,.4840),(10.474,.4910)],
[(10.490,.4915),(10.542,.4867),(10.584,.4797),(10.623,.4705),(10.662,.4597),(10.630,.4419),(10.607,.4203),(10.578,.4111),(10.552,.4058),(10.516,.3950),(10.474,.4058),(10.442,.4133),(10.403,.4203),(10.419,.4473),(10.432,.4764),(10.445,.4818),(10.477,.4883)],
[(10.490,.4888),(10.539,.4840),(10.578,.4775),(10.614,.4689),(10.649,.4581),(10.617,.4419),(10.597,.4203),(10.571,.4117),(10.552,.4074),(10.514,.3966),(10.474,.4074),(10.448,.4138),(10.413,.4203),(10.429,.4473),(10.442,.4743),(10.481,.4861)],
[(10.507,.4861),(10.539,.4818),(10.571,.4753),(10.604,.4673),(10.636,.4570),(10.604,.4419),(10.587,.4203),(10.568,.4122),(10.549,.4090),(10.513,.3982),(10.477,.4090),(10.455,.4149),(10.426,.4203),(10.442,.4473),(10.455,.4721),(10.484,.4834)],
[(10.507,.4834),(10.536,.4797),(10.565,.4732),(10.594,.4656),(10.623,.4559),(10.591,.4419),(10.578,.4203),(10.562,.4128),(10.549,.4111),(10.512,.4004),(10.477,.4111),(10.461,.4155),(10.435,.4203),(10.452,.4473),(10.464,.4694),(10.487,.4807)],
[(10.516,.4807),(10.539,.4775),(10.562,.4710),(10.584,.4635),(10.610,.4548),(10.578,.4419),(10.568,.4225),(10.555,.4138),(10.545,.4128),(10.510,.4025),(10.481,.4133),(10.468,.4171),(10.448,.4214),(10.461,.4473),(10.474,.4667),(10.488,.4780)],
[(10.516,.4780),(10.539,.4748),(10.558,.4689),(10.578,.4619),(10.597,.4538),(10.565,.4419),(10.562,.4236),(10.549,.4149),(10.509,.4052),(10.481,.4160),(10.458,.4236),(10.471,.4473),(10.484,.4640),(10.490,.4753)],
[(10.516,.4753),(10.536,.4721),(10.555,.4667),(10.571,.4602),(10.584,.4527),(10.555,.4419),(10.555,.4257),(10.542,.4165),(10.508,.4085),(10.484,.4192),(10.468,.4257),(10.481,.4473),(10.490,.4613),(10.494,.4726)],
[(10.518,.4726),(10.536,.4694),(10.552,.4646),(10.565,.4581),(10.571,.4505),(10.545,.4419),(10.549,.4279),(10.542,.4192),(10.507,.4117),(10.484,.4214),(10.477,.4279),(10.494,.4473),(10.500,.4592)],
[(10.520,.4694),(10.536,.4662),(10.552,.4602),(10.552,.4548),(10.536,.4473),(10.529,.4354),(10.529,.4203),(10.507,.4160),(10.487,.4257),(10.494,.4473),(10.507,.4581)],
]
blue_core_lower_arcs = [
[(10.662,.4419),(10.632,.4203),(10.594,.4090),(10.560,.4012),(10.517,.3909),(10.468,.4017),(10.417,.4108),(10.372,.4203),(10.386,.4473),(10.402,.4797),(10.425,.4930)],
[(10.650,.4419),(10.621,.4203),(10.587,.4098),(10.556,.4030),(10.516,.3925),(10.470,.4033),(10.427,.4116),(10.384,.4203),(10.400,.4473),(10.416,.4786),(10.436,.4905)],
[(10.636,.4419),(10.612,.4203),(10.581,.4106),(10.553,.4050),(10.516,.3941),(10.472,.4050),(10.437,.4128),(10.397,.4203),(10.412,.4473),(10.427,.4770),(10.445,.4880)],
[(10.623,.4419),(10.602,.4203),(10.575,.4114),(10.552,.4066),(10.515,.3958),(10.474,.4066),(10.445,.4135),(10.408,.4203),(10.424,.4473),(10.437,.4753),(10.453,.4855)],
[(10.610,.4419),(10.592,.4203),(10.570,.4120),(10.550,.4082),(10.513,.3974),(10.475,.4082),(10.451,.4143),(10.420,.4203),(10.436,.4473),(10.449,.4732),(10.462,.4830)],
[(10.598,.4419),(10.582,.4203),(10.565,.4125),(10.549,.4100),(10.512,.3993),(10.477,.4100),(10.458,.4152),(10.430,.4203),(10.447,.4473),(10.459,.4708),(10.470,.4805)],
[(10.584,.4419),(10.573,.4214),(10.558,.4133),(10.547,.4120),(10.511,.4015),(10.479,.4122),(10.464,.4163),(10.441,.4208),(10.456,.4473),(10.469,.4680),(10.477,.4775)],
[(10.571,.4419),(10.565,.4230),(10.552,.4143),(10.510,.4038),(10.481,.4146),(10.463,.4225),(10.466,.4473),(10.479,.4653),(10.484,.4750)],
[(10.560,.4419),(10.558,.4246),(10.545,.4157),(10.508,.4068),(10.482,.4176),(10.463,.4246),(10.476,.4473),(10.487,.4626)],
[(10.550,.4419),(10.552,.4268),(10.542,.4178),(10.507,.4101),(10.484,.4203),(10.472,.4268),(10.487,.4473),(10.495,.4602)],
]
blue_core_right_arcs = [
[(10.571,.4473),(10.552,.4203),(10.536,.4095),(10.514,.3993)],
[(10.558,.4473),(10.545,.4203),(10.533,.4106),(10.512,.4020)],
[(10.549,.4473),(10.539,.4203),(10.528,.4128),(10.510,.4052)],
[(10.540,.4473),(10.534,.4203),(10.524,.4149),(10.508,.4095)],
[(10.536,.4419),(10.531,.4225),(10.521,.4171),(10.509,.4128)],
]


def distinct(points):
    """Overlapping crops gave some points twice; keep one reading of each."""
    kept = []
    for px, py in points:
        if not any(abs(px - qx) < 0.005 and abs(py - qy) < 0.0011 for qx, qy in kept):
            kept.append((px, py))
    return kept


def line_trace(points, color, closed=True, smoothing=0.8, width=3.7):
    pts = list(points) + (list(points[:1]) if closed else [])
    return go.Scatter(x=[p[0] for p in pts], y=[p[1] for p in pts], mode="lines",
                      line=dict(color=color, width=width, shape="spline", smoothing=smoothing),
                      hoverinfo="skip", showlegend=False)


fig = go.Figure()
for pts, col in ((distinct(blue_points), BLUE_PT), (distinct(red_points), RED_PT)):
    fig.add_trace(go.Scatter(x=[p[0] for p in pts], y=[p[1] for p in pts], mode="markers",
                             marker=dict(size=16, color=col, line=dict(width=0)),
                             hoverinfo="skip", showlegend=False))

fig.add_trace(line_trace(blue_outer, BLUE, closed=False, smoothing=0.5))
fig.add_trace(line_trace(blue_island, BLUE, closed=False, smoothing=0.5))
for lev in (blue_level_2, blue_level_3, blue_level_4, blue_level_5, blue_level_6, blue_level_7):
    fig.add_trace(line_trace(lev, BLUE, smoothing=0.5))
for lev in blue_core:
    fig.add_trace(line_trace(lev, BLUE, smoothing=0.9, width=3.9))
for lev in blue_core_lower_arcs + blue_core_right_arcs:
    fig.add_trace(line_trace(lev, BLUE, closed=False, smoothing=0.9, width=3.9))
for lev in (red_level_1, red_level_2, red_level_3, red_level_4, red_level_5,
            red_level_6, red_level_7, red_level_8, red_level_9, red_level_10):
    fig.add_trace(line_trace(lev, RED, smoothing=0.9, width=3.5))

DASH = "24px,26.7px"
for xv, col in ((blue_mean_x, BLUE), (red_mean_x, RED)):
    fig.add_trace(go.Scatter(x=[xv, xv], y=y_line_span, mode="lines", hoverinfo="skip", showlegend=False,
                             line=dict(color=col, width=10.5, dash=DASH)))
for yv, col in ((blue_mean_y, BLUE), (red_mean_y, RED)):
    fig.add_trace(go.Scatter(x=x_line_span, y=[yv, yv], mode="lines", hoverinfo="skip", showlegend=False,
                             line=dict(color=col, width=10.5, dash=DASH)))

FONT = "Liberation Sans"
tickfont = dict(family=FONT, size=64, color="black", weight=700)
titlefont = dict(family=FONT, size=79.5, color="black", weight=700)
fig.update_layout(
    width=2253, height=1797, paper_bgcolor="white", plot_bgcolor="white",
    margin=dict(l=345, r=0, t=99, b=223), showlegend=False,
    xaxis=dict(range=x_range, tickvals=x_ticks, ticks="outside", ticklen=19, tickwidth=5, tickcolor="black",
               showgrid=False, zeroline=False, showline=True, linecolor="black", linewidth=6,
               ticklabelstandoff=-6,
               tickfont=tickfont, title=dict(text="Foliar N:P", font=titlefont, standoff=46)),
    yaxis=dict(range=y_range, tickvals=y_ticks, tickformat=".1f", ticks="outside", ticklen=19, tickwidth=5,
               tickcolor="black", showgrid=False, zeroline=False, showline=True, linecolor="black", linewidth=6,
               ticklabelstandoff=7,
               tickfont=tickfont, title=dict(text="Foliar NxP", font=titlefont, standoff=77)),
    annotations=[
        dict(text="Foliar N (% DW)", xref="paper", yref="paper", x=(1295 - 345) / 1908, y=1 + (99 - 34) / 1475,
             xanchor="center", yanchor="bottom", showarrow=False, font=titlefont, yshift=-17),
        dict(text="b)", xref="paper", yref="paper", x=(131 - 345) / 1908, y=1 + (99 - 114) / 1475,
             xanchor="left", yanchor="bottom", showarrow=False, font=dict(family=FONT, size=76, color="black", weight=700)),
    ],
)
fig.write_html("out.html", config=dict(displayModeBar=False),
               post_script="document.body.style.margin='0';document.body.style.overflow='hidden';")
